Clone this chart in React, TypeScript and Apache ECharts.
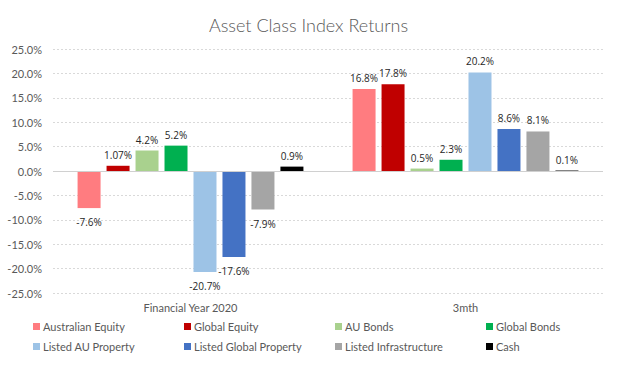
import React, { useEffect, useRef } from "react";
import * as echarts from "echarts";

const categories = ["Financial Year 2020", "3mth"];
const seriesNames = [
  "Australian Equity",
  "Global Equity",
  "AU Bonds",
  "Global Bonds",
  "Listed AU Property",
  "Listed Global Property",
  "Listed Infrastructure",
  "Cash",
];
const australianEquity = [-7.6, 16.8];
const globalEquity = [1.07, 17.8];
const auBonds = [4.2, 0.5];
const globalBonds = [5.2, 2.3];
const listedAuProperty = [-20.7, 20.2];
const listedGlobalProperty = [-17.6, 8.6];
const listedInfrastructure = [-7.9, 8.1];
const cash = [0.9, 0.1];
const seriesValues = [
  australianEquity,
  globalEquity,
  auBonds,
  globalBonds,
  listedAuProperty,
  listedGlobalProperty,
  listedInfrastructure,
  cash,
];
const colors = ["#FF7C80", "#C00000", "#A9D18E", "#00B050", "#9DC3E6", "#4472C4", "#A5A5A5", "#000000"];
const legendLeft = [33, 184, 335, 486];
const legendTop = [321, 341];

export default function App() {
  const ref = useRef<HTMLDivElement>(null);
  useEffect(() => {
    if (!ref.current) return;
    const chart = echarts.init(ref.current, undefined, { renderer: "svg" });
    const series = seriesNames.map((name, i) => ({
      name,
      type: "bar",
      barWidth: 23,
      barGap: "26%",
      itemStyle: { color: colors[i] },
      data: seriesValues[i].map((v) => ({
        value: v,
        label: {
          show: true,
          position: v < 0 ? "bottom" : "top",
          distance: v < 0 ? 9 : 6,
          formatter: () => `${v}%`,
          fontFamily: "Open Sans",
          fontSize: 10,
          color: "#262626",
        },
      })),
      ...(i === 0
        ? {
            markLine: {
              silent: true,
              symbol: "none",
              label: { show: false },
              lineStyle: { color: "#D0D0D0", type: "solid", width: 1 },
              data: [{ yAxis: 0 }],
            },
          }
        : {}),
    }));
    const legends = seriesNames.map((name, i) => ({
      data: [name],
      left: legendLeft[i % 4],
      top: legendTop[Math.floor(i / 4)],
      icon: "rect",
      itemWidth: 7,
      itemHeight: 7,
      itemGap: 0,
      padding: 0,
      textStyle: { fontFamily: "Lato", fontSize: 11, color: "#595959", padding: [0, 0, 0, -2] },
      selectedMode: false,
    }));
    chart.setOption({
      animation: false,
      title: {
        text: "Asset Class Index Returns",
        left: "center",
        top: 11,
        textStyle: { fontFamily: "Lato", fontSize: 18, fontWeight: 300, color: "#595959" },
      },
      legend: legends,
      grid: { left: 53, right: 14, top: 49, bottom: 77, containLabel: false },
      xAxis: {
        type: "category",
        data: categories,
        position: "bottom",
        axisLine: { show: false, onZero: false },
        axisTick: { show: false },
        axisLabel: { fontFamily: "Lato", fontSize: 11, color: "#595959", margin: 9 },
      },
      yAxis: {
        type: "value",
        min: -25,
        max: 25,
        interval: 5,
        axisLine: { show: false },
        axisTick: { show: false },
        axisLabel: {
          formatter: (v: number) => `${v.toFixed(1)}%`,
          fontFamily: "Lato",
          fontSize: 11,
          color: "#595959",
          margin: 11,
        },
        splitLine: { lineStyle: { color: "#D9D9D9", type: [2, 2] } },
      },
      series,
    });
    return () => chart.dispose();
  }, []);
  return (
    <div
      ref={ref}
      style={{ position: "fixed", left: 0, top: 0, width: 617, height: 370, background: "#fff" }}
    />
  );
}
